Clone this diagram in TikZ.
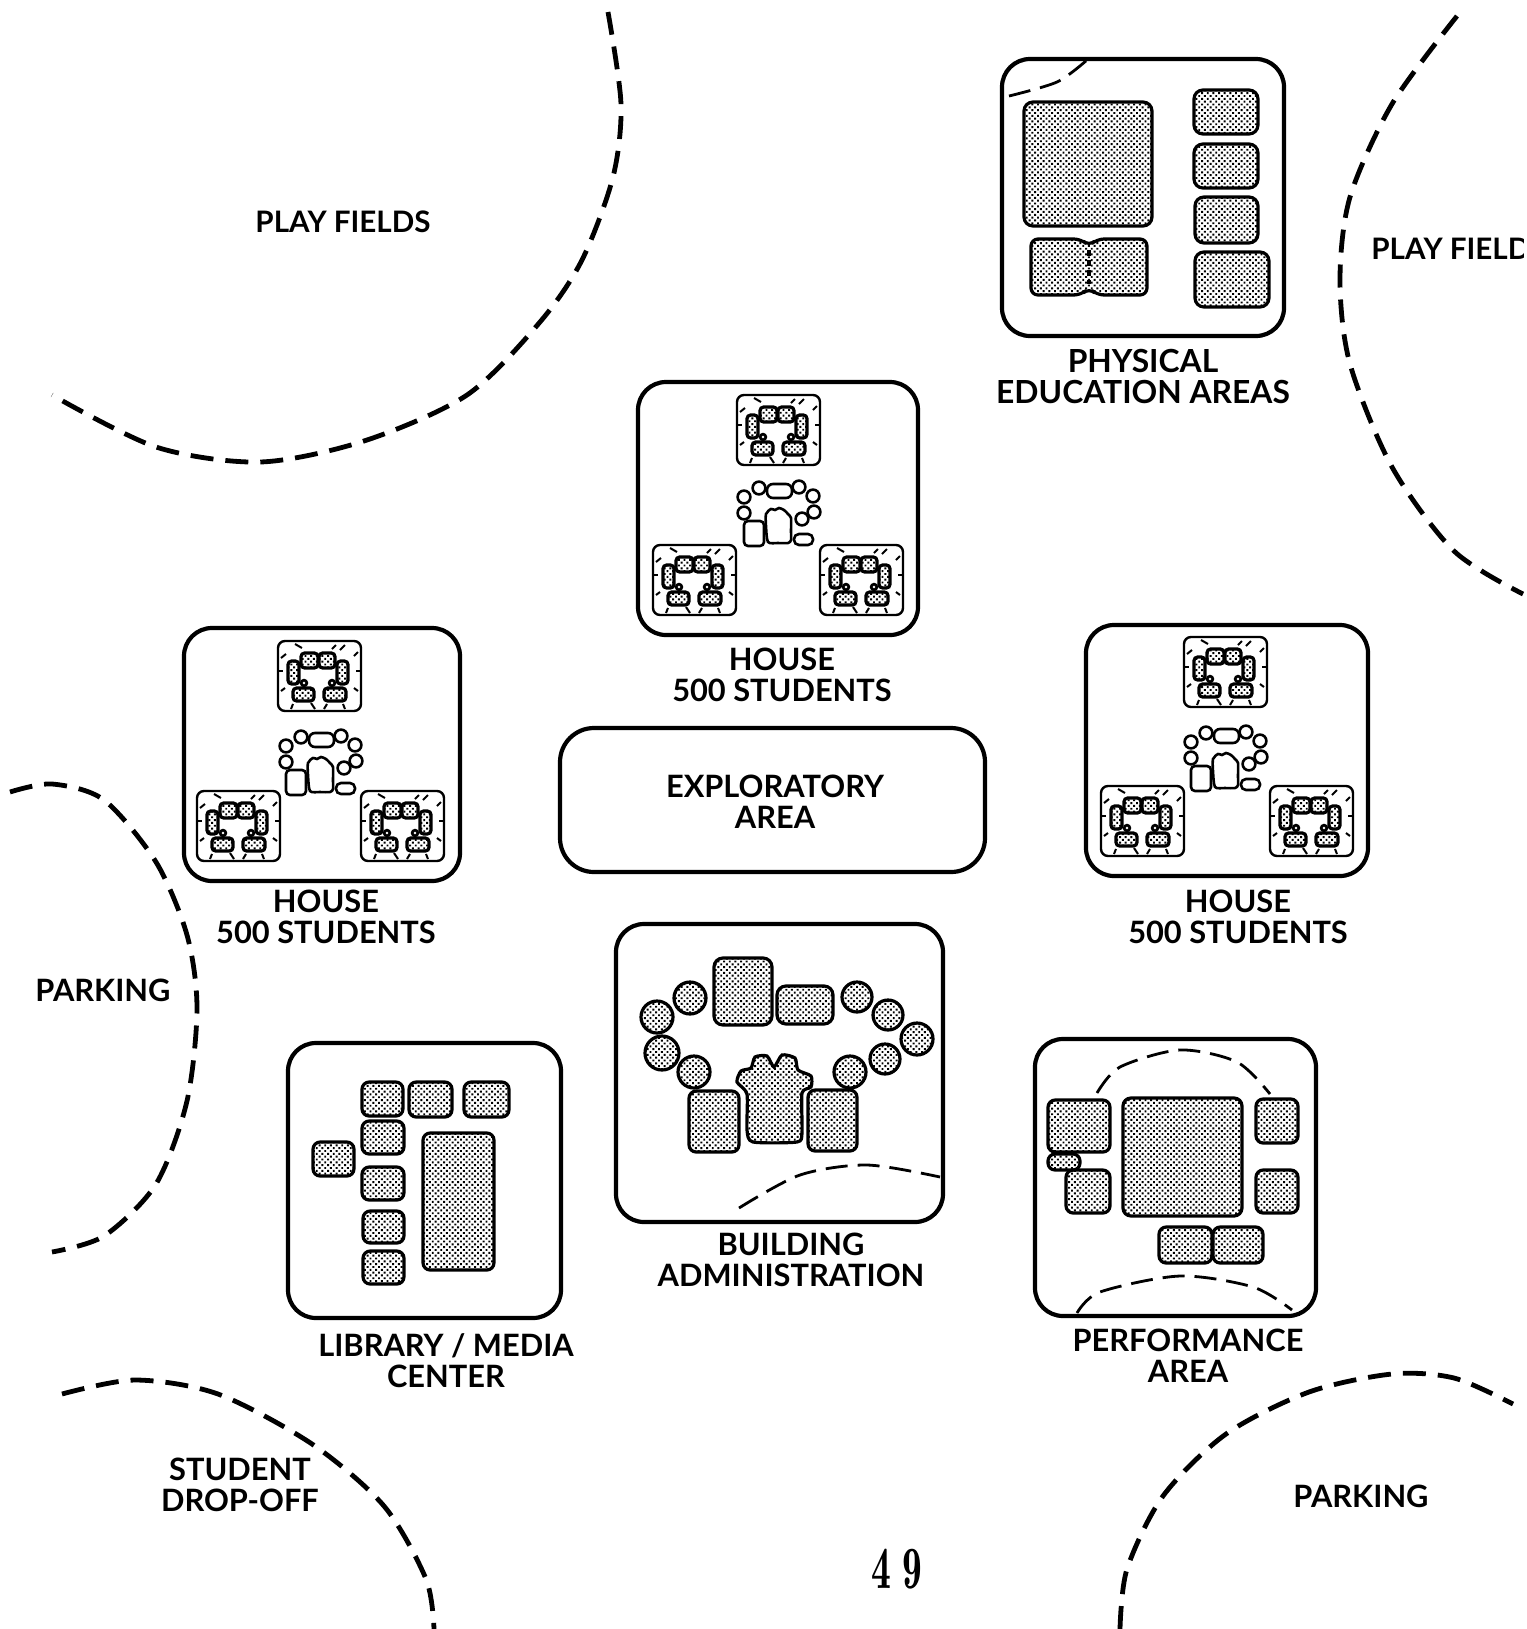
\documentclass[tikz,border=0pt]{standalone}
\usepackage{fontspec}
\setmainfont{Lato}
\usetikzlibrary{patterns.meta}
\newcommand{\rr}[5][4.5]{\draw[room,rounded corners=#1] (#2,#3) rectangle (#4,#5);}
\newcommand{\pc}[3]{\draw[room] (#1,#2) circle[radius=#3*0.5pt];}
\newcommand{\unitplan}[2]{%
\begin{scope}[shift={(#1,#2)},x=0.5pt,y=-0.5pt]
\draw[unitline,rounded corners=3.5] (0,0) rectangle (83,70);
\draw[tick,fill=black] (26,42) circle[radius=1.6pt];
\draw[tick,fill=black] (54,42) circle[radius=1.6pt];
\fill[white] (26,42) circle[radius=0.7pt];
\fill[white] (54,42) circle[radius=0.7pt];
\foreach \a/\b/\c/\d in {23/12/40/27,41/12/57/27,10/20/21/43,59/20/70/43,15/47/36/60,46/47/68/60}{
  \draw[sroom,rounded corners=1.8] (\a,\b) rectangle (\c,\d);}
\foreach \a/\b/\c/\d in {17/3/24/7,54/8/58/4,62/9/67/4,3/17/8/13,76/15/80/11,1/30/5/30,78/30/82/30,3/50/7/47,76/47/80/50,13/68/15/63,33/62/37/68,49/63/46/68,67/68/65/63}{
  \draw[tick] (\a,\b) -- (\c,\d);}
\end{scope}}
\newcommand{\hubplan}[2]{%
\begin{scope}[shift={(#1,#2)},x=0.5pt,y=-0.5pt]
\foreach \a/\b in {6/21,21/12,6/37,61/11,75/20,76/36,64/43}{
  \draw[hubline,fill=white] (\a,\b) circle[radius=3.2pt];}
\draw[hubline,rounded corners=3] (29,8) rectangle (54,22);
\draw[hubline,rounded corners=2] (6,45) rectangle (26,70);
\draw[hubline,rounded corners=2.5] (56,58) rectangle (75,69);
\draw[hubline] plot[smooth cycle,tension=0.45] coordinates {(30,66)(28,50)(28,38)(33,33)(37,34)(41,32)(46,34)(50,38)(53,42)(53,55)(53,64)(50,67)(40,67)};
\end{scope}}
\tikzset{
 box/.style={line width=2.1pt,rounded corners=14pt,fill=white},
 room/.style={line width=1.6pt,draw=black,pattern={Dots[distance=2pt,radius=0.68pt,angle=45]},pattern color=black},
 sroom/.style={line width=1.6pt,draw=black,pattern={Dots[distance=2pt,radius=0.68pt,angle=45]},pattern color=black},
 unitline/.style={line width=1.2pt},
 tick/.style={line width=1pt},
 hubline/.style={line width=1.3pt},
 bigdash/.style={line width=2.4pt,dash pattern=on 11.5pt off 6pt},
 indash/.style={line width=1.4pt,dash pattern=on 11pt off 5pt},
 lab/.style={align=center,font=\fontsize{15.4}{15.5}\selectfont\bfseries,inner sep=0pt},
 labsm/.style={lab,font=\fontsize{14.8}{15.5}\selectfont\bfseries},
 labbig/.style={lab,font=\fontsize{15.9}{15.5}\selectfont\bfseries},
}
\begin{document}
\begin{tikzpicture}[x=0.5pt,y=-0.5pt]
\useasboundingbox (0,0) rectangle (1527,1629);
\fill[white] (0,0) rectangle (1527,1629);
% dashed site edges
\draw[bigdash] plot[smooth] coordinates {(608,12)(621,104)(613,177)(582,260)(540,322)(467,395)(364,441)(260,462)(156,447)(52,395)};
\draw[bigdash] plot[smooth] coordinates {(1457,16)(1392,104)(1350,197)(1340,280)(1350,364)(1392,467)(1454,551)(1523,594)};
\draw[bigdash] plot[smooth] coordinates {(10,792)(52,784)(104,800)(156,862)(187,935)(197,1008)(187,1101)(156,1184)(104,1236)(52,1252)};
\draw[bigdash] plot[smooth] coordinates {(62,1394)(135,1380)(218,1394)(312,1444)(384,1506)(426,1579)(434,1629)};
\draw[bigdash] plot[smooth] coordinates {(1120,1629)(1127,1569)(1163,1496)(1226,1434)(1309,1392)(1392,1374)(1454,1378)(1513,1404)};
% physical education
\draw[box] (1002,59) rectangle (1284,336);
\rr{1024}{102}{1152}{226}
\rr{1194}{90}{1258}{134}
\rr{1194}{144}{1258}{188}
\rr{1195}{197}{1258}{243}
\rr{1195}{252}{1269}{307}
\draw[room,rounded corners=3.5] (1031,239) -- (1081,239) -- (1089,246) -- (1097,239) -- (1147,239) -- (1147,295) -- (1097,295) -- (1089,288) -- (1081,295) -- (1031,295) -- cycle;
\draw[line width=1.8pt,dash pattern=on 3pt off 2pt] (1089,250) -- (1089,284);
\draw[indash] plot[smooth] coordinates {(1009,96)(1057,82)(1087,60)};
% houses
\draw[box] (638,382) rectangle (918,635);
\unitplan{737}{395}\unitplan{653}{545}\unitplan{820}{545}\hubplan{738}{476}
\draw[box] (184,628) rectangle (460,881);
\unitplan{278}{641}\unitplan{197}{791}\unitplan{361}{791}\hubplan{280}{725}
\draw[box] (1086,625) rectangle (1368,876);
\unitplan{1184}{637}\unitplan{1101}{786}\unitplan{1270}{786}\hubplan{1185}{721}
% exploratory
\draw[box,rounded corners=17pt] (560,728) rectangle (985,872);
% administration
\draw[box] (616,924) rectangle (943,1222);
\pc{657}{1017}{16}\pc{690}{998}{16}\pc{662}{1053}{17}\pc{694}{1072}{16}
\pc{857}{997}{15}\pc{888}{1015}{15}\pc{917}{1039}{16}\pc{885}{1059}{15}\pc{850}{1072}{16}
\rr{714}{958}{772}{1025}
\rr{777}{986}{833}{1024}
\rr[3.6]{689}{1091}{739}{1152}
\rr[3.6]{808}{1090}{857}{1151}
\draw[room] plot[smooth cycle,tension=0.4] coordinates {(747,1130)(747,1094)(737,1082)(741,1071)(751,1068)(755,1057)(767,1056)(774,1067)(782,1055)(795,1058)(798,1070)(811,1076)(811,1087)(802,1093)(802,1133)(797,1142)(753,1142)};
\draw[indash] plot[smooth] coordinates {(739,1208)(800,1175)(867,1165)(940,1177)};
% library
\draw[box] (288,1043) rectangle (561,1318);
\rr[3.6]{362}{1082}{403}{1116}
\rr[3.6]{409}{1082}{452}{1117}
\rr[3.6]{464}{1082}{509}{1117}
\rr[3.6]{362}{1121}{404}{1154}
\rr[3.6]{313}{1142}{354}{1176}
\rr[3.6]{362}{1167}{404}{1200}
\rr[3.6]{363}{1211}{404}{1243}
\rr[3.6]{363}{1251}{404}{1284}
\rr[3.6]{423}{1133}{494}{1270}
% performance
\draw[box] (1035,1039) rectangle (1316,1316);
\rr[3.6]{1048}{1100}{1110}{1152}
\rr[3.5]{1048}{1154}{1080}{1170}
\rr[3.6]{1066}{1170}{1110}{1213}
\rr[4]{1123}{1098}{1242}{1216}
\rr[3.6]{1256}{1099}{1298}{1143}
\rr[3.6]{1256}{1170}{1298}{1213}
\rr[3.6]{1159}{1227}{1212}{1263}
\rr[3.6]{1213}{1227}{1263}{1263}
\draw[indash] plot[smooth] coordinates {(1097,1093)(1120,1067)(1180,1050)(1237,1062)(1270,1094)};
\draw[indash] plot[smooth] coordinates {(1077,1313)(1100,1292)(1180,1276)(1253,1287)(1292,1310)};
% labels
\node[labsm] (pf1) at (343,222) {PLAY FIELDS};
\begin{scope}
\clip (1360,220) rectangle (1523,280);
\node[labsm,anchor=west] (pf2) at (1371,249) {PLAY FIELDS};
\end{scope}
\node[labbig] (pe) at (1143,376) {PHYSICAL\\EDUCATION AREAS};
\node[lab] (h1) at (782,675) {HOUSE\\500 STUDENTS};
\node[lab] (h2) at (326,917) {HOUSE\\500 STUDENTS};
\node[lab] (h3) at (1238,917) {HOUSE\\500 STUDENTS};
\node[lab] (ex) at (775,802) {EXPLORATORY\\AREA};
\node[lab] (ad) at (791,1260) {BUILDING\\ADMINISTRATION};
\node[lab] (li) at (446,1361) {LIBRARY / MEDIA\\CENTER};
\node[lab] (pa) at (1188,1356) {PERFORMANCE\\AREA};
\node[lab] (pk1) at (103,990) {PARKING};
\node[lab] (pk2) at (1361,1496) {PARKING};
\node[lab] (sd) at (240,1485) {STUDENT\\DROP-OFF};
\node[inner sep=0pt,font=\fontfamily{lmr}\bfseries\fontsize{30}{30}\selectfont] (pg) at (897,1569) {\scalebox{0.66}[1]{4\hspace{8pt}9}};
\end{tikzpicture}
\end{document}
